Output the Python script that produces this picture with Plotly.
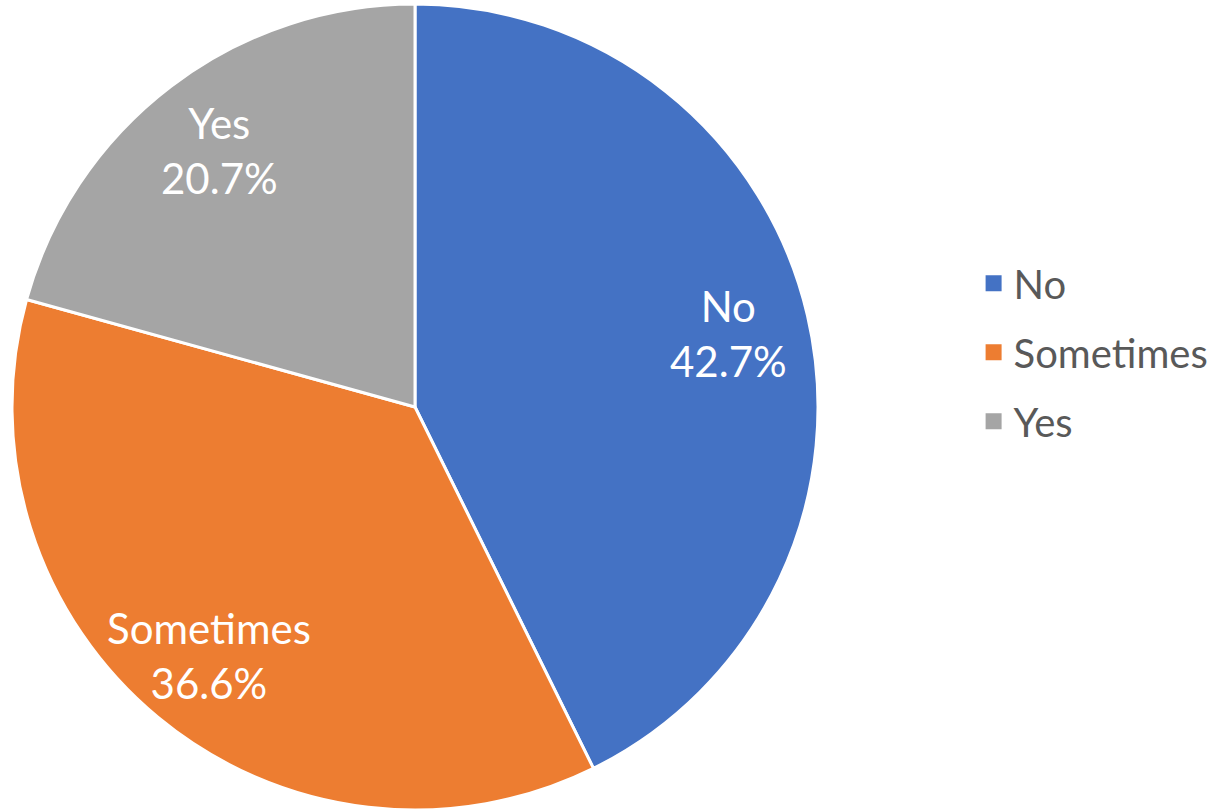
import math
import plotly.graph_objects as go

# Survey answers and their shares (%)
categories = ["No", "Sometimes", "Yes"]
shares = [42.7, 36.6, 20.7]
colors = ["#4472C4", "#ED7D31", "#A5A5A5"]

W, H = 1217, 810
FONT = "Lato, Open Sans, sans-serif"

# Pie placement on the page (paper fractions)
dom_x = [12 / W, 818 / W]
dom_y = [0.0, 1 - 4 / H]

fig = go.Figure()

fig.add_trace(
    go.Pie(
        labels=categories,
        values=shares,
        sort=False,
        direction="clockwise",
        rotation=0,
        marker=dict(colors=colors, line=dict(color="white", width=3)),
        textinfo="none",
        hoverinfo="label+percent",
        showlegend=False,
        domain=dict(x=dom_x, y=dom_y),
    )
)

# Data labels placed along each slice's bisector, ~80% of the radius out
cx_px = (dom_x[0] + dom_x[1]) / 2 * W
cy_px = (1 - (dom_y[0] + dom_y[1]) / 2) * H
radius_px = min((dom_x[1] - dom_x[0]) * W, (dom_y[1] - dom_y[0]) * H) / 2
total = sum(shares)
cum = 0.0
for cat, val in zip(categories, shares):
    mid = (cum + val / 2) / total * 2 * math.pi
    cum += val
    px = cx_px + 0.8 * radius_px * math.sin(mid)
    py = cy_px - 0.8 * radius_px * math.cos(mid)
    fig.add_annotation(
        x=px / W, y=1 - py / H, xref="paper", yref="paper",
        text=f"{cat}<br>{val / total * 100:.1f}%",
        showarrow=False, xanchor="center", yanchor="middle",
        font=dict(family=FONT, size=42, color="white"),
    )

# Legend entries, one group each so the spacing can be set
for cat, col in zip(categories, colors):
    fig.add_trace(
        go.Scatter(
            x=[None], y=[None], mode="markers", name=cat, legendgroup=cat,
            marker=dict(symbol="square", size=16, color=col),
            hoverinfo="skip",
        )
    )

fig.update_layout(
    width=W,
    height=H,
    margin=dict(l=0, r=0, t=0, b=0),
    paper_bgcolor="white",
    plot_bgcolor="white",
    xaxis=dict(visible=False),
    yaxis=dict(visible=False),
    showlegend=True,
    legend=dict(
        x=0.8,
        y=0.565,
        xanchor="left",
        yanchor="middle",
        font=dict(family=FONT, size=40, color="#595959"),
        tracegroupgap=14,
        itemsizing="trace",
    ),
)

fig.write_html("out.html")
